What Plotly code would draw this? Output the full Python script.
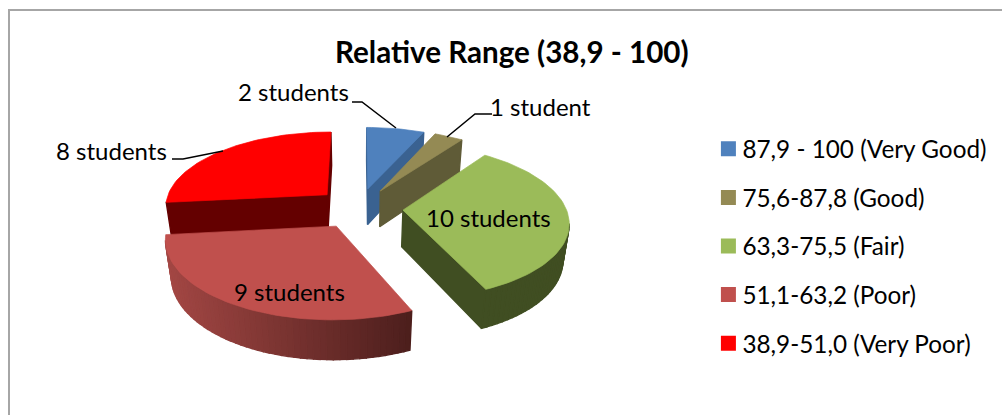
import math
import plotly.graph_objects as go

title_text = "Relative Range (38,9 - 100)"
categories = ["87,9 - 100 (Very Good)", "75,6-87,8 (Good)", "63,3-75,5 (Fair)", "51,1-63,2 (Poor)", "38,9-51,0 (Very Poor)"]
students = [2, 1, 10, 9, 8]
point_labels = ["2 students", "1 student", "10 students", "9 students", "8 students"]
top_colors = ["#4f81bd", "#948a54", "#9bbb59", "#c0504d", "#ff0000"]
wall_colors = [("#3a6291", "#3a6291"), ("#5f5b37", "#5f5b37"), ("#404e22", "#404e22"),
               ("#a34744", "#4c1e1c"), ("#640000", "#640000")]
draw_order = [0, 1, 4, 2, 3]

CX, CY, FX, KY, P, DEPTH, EXPLODE = 359, 208, 163, 75, 0.14, 37.5, 0.27
FONT = "Lato"


def project(x, y, z=0.0):
    w = 1 + P * y + 0.03 * z
    return CX + FX * x / w, CY - (KY * y - DEPTH * z) / w


total = sum(students)
slices = []
a = 0.0
for v in students:
    b = a + 360 * v / total
    slices.append((a, b))
    a = b


def outline(i):
    a0, b0 = slices[i]
    mid = math.radians((a0 + b0) / 2)
    ex, ey = EXPLODE * math.sin(mid), EXPLODE * math.cos(mid)
    n = max(6, int((b0 - a0) / 2))
    pts = [(ex, ey)]
    for k in range(n + 1):
        t = math.radians(a0 + (b0 - a0) * k / n)
        pts.append((ex + math.sin(t), ey + math.cos(t)))
    return pts


def mix(c0, c1, f):
    v0 = [int(c0[j:j + 2], 16) for j in (1, 3, 5)]
    v1 = [int(c1[j:j + 2], 16) for j in (1, 3, 5)]
    return "#%02x%02x%02x" % tuple(round(p + (q - p) * f) for p, q in zip(v0, v1))


fig = go.Figure()


def poly(xs, ys, color, width=0.7):
    fig.add_trace(go.Scatter(x=xs, y=ys, mode="lines", fill="toself", fillcolor=color,
                             line=dict(color=color, width=width), showlegend=False, hoverinfo="skip"))


for i in draw_order:
    pts = outline(i)
    closed = pts + [pts[0]]
    top = [project(*p) for p in closed]
    xmin = min(q[0] for q in top)
    xmax = max(q[0] for q in top)
    for j in range(len(closed) - 1):
        p0, p1 = closed[j], closed[j + 1]
        s0, s1 = project(*p0), project(*p1)
        if s1[0] - s0[0] < 0:
            f = ((s0[0] + s1[0]) / 2 - xmin) / (xmax - xmin)
            c = mix(wall_colors[i][0], wall_colors[i][1], f)
            b0 = project(p0[0], p0[1], 1)
            b1 = project(p1[0], p1[1], 1)
            poly([s0[0], s1[0], b1[0], b0[0], s0[0]], [s0[1], s1[1], b1[1], b0[1], s0[1]], c, 1.4)
    poly([q[0] for q in top], [q[1] for q in top], top_colors[i])

for name, col in zip(categories, top_colors):
    fig.add_trace(go.Scatter(x=[None], y=[None], mode="markers", name=name, legendgroup=name,
                             marker=dict(symbol="square", size=15, color=col, line=dict(width=0))))

annos = [
    dict(text=point_labels[0], x=351, y=91, xanchor="right"),
    dict(text=point_labels[1], x=488, y=106, xanchor="left"),
    dict(text=point_labels[2], x=488, y=217, xanchor="center"),
    dict(text=point_labels[3], x=289, y=291, xanchor="center"),
    dict(text=point_labels[4], x=169, y=150, xanchor="right"),
]
annotations = [dict(a, xref="x", yref="y", showarrow=False, yanchor="middle",
                    font=dict(family=FONT, size=24, color="#000000")) for a in annos]
annotations.append(dict(text="<b>%s</b>" % title_text, x=512, y=51, xref="x", yref="y", showarrow=False,
                        xanchor="center", yanchor="middle", font=dict(family=FONT, size=29.6, color="#000000")))

shapes = [dict(type="rect", x0=9, y0=10, x1=1020, y1=430, line=dict(color="#a6a6a6", width=2), layer="below")]
for path in (
    [(352, 102), (362, 102), (396, 128)],
    [(492, 114), (475, 114), (447, 137)],
    [(172, 159), (183, 159), (223, 151)],
):
    d = "M" + " L".join("%d,%d" % p for p in path)
    shapes.append(dict(type="path", path=d, line=dict(color="#000000", width=1.5)))

fig.update_layout(
    width=1002, height=415, margin=dict(l=0, r=0, t=0, b=0, pad=0),
    paper_bgcolor="#ffffff", plot_bgcolor="#ffffff",
    xaxis=dict(range=[0, 1002], visible=False, fixedrange=True),
    yaxis=dict(range=[415, 0], visible=False, fixedrange=True),
    annotations=annotations, shapes=shapes,
    legend=dict(x=0.707, y=1 - 246 / 415, xanchor="left", yanchor="middle", traceorder="grouped",
                font=dict(family=FONT, size=24.3, color="#000000"), tracegroupgap=14,
                bgcolor="rgba(0,0,0,0)", itemwidth=30),
)
post = ("document.body.style.margin='0';document.body.style.overflow='hidden';"
        "setTimeout(function(){document.querySelectorAll('.legendtext').forEach(function(t){"
        "t.setAttribute('x','34');});},0);")
fig.write_html("out.html", post_script=post, config={"displayModeBar": False})
